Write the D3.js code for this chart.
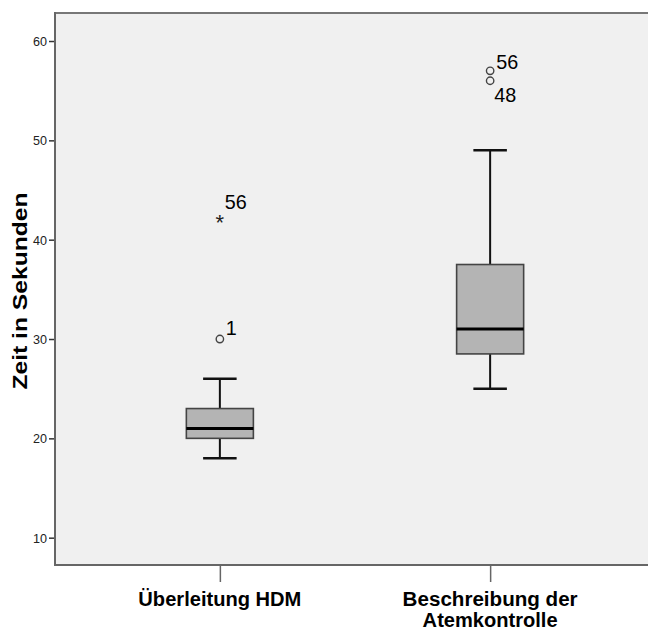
<!DOCTYPE html>
<html><head><meta charset="utf-8">
<script src="https://cdn.jsdelivr.net/npm/d3@7"></script>
<style>html,body{margin:0;padding:0;background:#fff;}svg{display:block;}</style>
</head><body>
<script>
// ---- data ----
const categories = ["Überleitung HDM", "Beschreibung der\nAtemkontrolle"];
const whiskerLow = [18, 25];
const q1 = [20, 28.5];
const median = [21, 31];
const q3 = [23, 37.5];
const whiskerHigh = [26, 49];
// outliers: [categoryIndex, value, caseLabel, type]
const outlierCat = [0, 0, 1, 1];
const outlierVal = [42, 30, 57, 56];
const outlierLabel = ["56", "1", "56", "48"];
const outlierType = ["extreme", "mild", "mild", "mild"];
const yTicks = [10, 20, 30, 40, 50, 60];
const yTitle = "Zeit in Sekunden";

// ---- layout / style ----
const W = 648, H = 630;
const plot = {left: 55, top: 13, bottom: 565, right: 655};
const labelOffset = {"0-56": [5, -11], "0-1": [6, -4], "1-56": [6, -2], "1-48": [4, 21]};
const catLabelWidths = [[163], [175, 135]];

const svg = d3.select("body").append("svg").attr("width", W).attr("height", H);

const y = d3.scaleLinear().domain([7.25, 62.82]).range([plot.bottom, plot.top]);
const x = d3.scalePoint().domain(d3.range(categories.length)).range([plot.left, plot.right]).padding(0.61);
const step = x.step();
const boxW = step * 0.248;
const capW = boxW / 2;
const FONT = "Liberation Sans, Arial, sans-serif";

// background
svg.append("rect").attr("x", plot.left).attr("y", plot.top)
  .attr("width", plot.right - plot.left).attr("height", plot.bottom - plot.top)
  .attr("fill", "#f0f0f0");
// top border
svg.append("line").attr("x1", plot.left).attr("x2", plot.right).attr("y1", plot.top).attr("y2", plot.top)
  .attr("stroke", "#777").attr("stroke-width", 2);

// y axis
const yAxis = d3.axisLeft(y).tickValues(yTicks).tickSize(6).tickPadding(2);
const gy = svg.append("g").attr("transform", `translate(${plot.left},0)`).call(yAxis);
gy.select(".domain").remove();
gy.selectAll(".tick line").attr("stroke", "#333").attr("stroke-width", 1.5);
gy.selectAll(".tick text").attr("font-family", FONT)
  .attr("font-size", 13.5).attr("fill", "#222")
  .attr("textLength", 14).attr("lengthAdjust", "spacingAndGlyphs");
svg.append("line").attr("x1", plot.left).attr("x2", plot.left).attr("y1", plot.top - 1).attr("y2", plot.bottom + 1)
  .attr("stroke", "#666").attr("stroke-width", 2);

// x axis
const xAxis = d3.axisBottom(x).tickSize(17).tickFormat("");
const gx = svg.append("g").attr("transform", `translate(0,${plot.bottom})`).call(xAxis);
gx.select(".domain").remove();
gx.selectAll(".tick line").attr("stroke", "#666").attr("stroke-width", 1.5);
svg.append("line").attr("x1", plot.left - 1).attr("x2", plot.right).attr("y1", plot.bottom).attr("y2", plot.bottom)
  .attr("stroke", "#666").attr("stroke-width", 2);

// category labels
categories.forEach((c, i) => {
  const lines = c.split("\n");
  lines.forEach((ln, j) => {
    svg.append("text").attr("x", x(i)).attr("y", 606 + j * 20.5)
      .attr("text-anchor", "middle")
      .attr("font-family", FONT).attr("font-weight", "bold")
      .attr("font-size", 20).attr("fill", "#000")
      .attr("textLength", catLabelWidths[i][j]).attr("lengthAdjust", "spacingAndGlyphs")
      .text(ln);
  });
});

// y title
svg.append("text").attr("transform", `translate(27,${291}) rotate(-90)`)
  .attr("text-anchor", "middle")
  .attr("font-family", FONT).attr("font-weight", "bold")
  .attr("font-size", 20.5).attr("fill", "#000")
  .attr("textLength", 197).attr("lengthAdjust", "spacingAndGlyphs")
  .text(yTitle);

// boxes
const boxes = svg.append("g");
categories.forEach((c, i) => {
  const cx = x(i);
  boxes.append("line").attr("x1", cx).attr("x2", cx).attr("y1", y(whiskerLow[i])).attr("y2", y(q1[i]))
    .attr("stroke", "#111").attr("stroke-width", 2);
  boxes.append("line").attr("x1", cx).attr("x2", cx).attr("y1", y(q3[i])).attr("y2", y(whiskerHigh[i]))
    .attr("stroke", "#111").attr("stroke-width", 2);
  [whiskerLow[i], whiskerHigh[i]].forEach(v => {
    boxes.append("line").attr("x1", cx - capW / 2).attr("x2", cx + capW / 2).attr("y1", y(v)).attr("y2", y(v))
      .attr("stroke", "#111").attr("stroke-width", 2.5);
  });
  boxes.append("rect").attr("x", cx - boxW / 2).attr("y", y(q3[i]))
    .attr("width", boxW).attr("height", y(q1[i]) - y(q3[i]))
    .attr("fill", "#b4b4b4").attr("stroke", "#444").attr("stroke-width", 1.6);
  boxes.append("line").attr("x1", cx - boxW / 2).attr("x2", cx + boxW / 2).attr("y1", y(median[i])).attr("y2", y(median[i]))
    .attr("stroke", "#000").attr("stroke-width", 3);
});

// outliers
outlierVal.forEach((v, k) => {
  const cx = x(outlierCat[k]), cy = y(v);
  if (outlierType[k] === "extreme") {
    svg.append("text").attr("x", cx).attr("y", cy + 10).attr("text-anchor", "middle")
      .attr("font-family", FONT).attr("font-size", 22).attr("fill", "#222")
      .text("*");
  } else {
    svg.append("circle").attr("cx", cx).attr("cy", cy).attr("r", 3.7)
      .attr("fill", "none").attr("stroke", "#444").attr("stroke-width", 1.4);
  }
  const off = labelOffset[outlierCat[k] + "-" + outlierLabel[k]];
  svg.append("text").attr("x", cx + off[0]).attr("y", cy + off[1])
    .attr("font-family", FONT).attr("font-size", 21).attr("fill", "#000")
    .attr("textLength", outlierLabel[k].length * 11).attr("lengthAdjust", "spacingAndGlyphs")
    .text(outlierLabel[k]);
});
</script>
</body></html>
